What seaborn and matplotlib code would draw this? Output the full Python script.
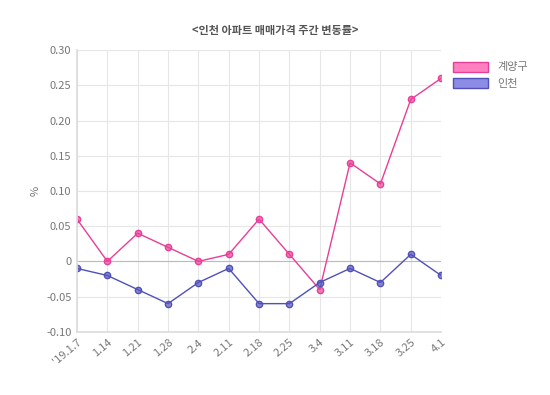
import pandas as pd
import matplotlib.pyplot as plt
import seaborn as sns
from matplotlib.patches import Patch

sns.set_theme(style="whitegrid")
plt.rcParams['font.family'] = ['Noto Sans CJK KR', 'DejaVu Sans']

weeks = ["'19.1.7", "1.14", "1.21", "1.28", "2.4", "2.11", "2.18", "2.25",
         "3.4", "3.11", "3.18", "3.25", "4.1"]
gyeyang = [0.06, 0, 0.04, 0.02, 0, 0.01, 0.06, 0.01, -0.04, 0.14, 0.11, 0.23, 0.26]
incheon = [-0.01, -0.02, -0.04, -0.06, -0.03, -0.01, -0.06, -0.06, -0.03, -0.01, -0.03, 0.01, -0.02]

df = pd.DataFrame({'week': list(range(len(weeks))) * 2,
                   'value': gyeyang + incheon,
                   'region': ['계양구'] * len(weeks) + ['인천'] * len(weeks)})

pink = '#e83e97'
blue = '#5050bb'

fig = plt.figure(figsize=(5.5, 3.95), dpi=100)
ax = fig.add_axes([0.14, 0.16, 0.662, 0.713])

sns.lineplot(data=df, x='week', y='value', hue='region', palette=[pink, blue],
             marker='o', markersize=4.5, linewidth=1, markeredgewidth=1,
             ax=ax, legend=False)
for line, c in zip(ax.lines, [pink, blue]):
    line.set_markerfacecolor(c + 'aa')
    line.set_markeredgecolor(c)

ax.set_xlim(0, len(weeks) - 1)
ax.set_ylim(-0.10, 0.30)
ax.set_xticks(range(len(weeks)))
ax.set_xticklabels(weeks, rotation=40, ha='right', rotation_mode='anchor')
yt = [-0.10, -0.05, 0, 0.05, 0.10, 0.15, 0.20, 0.25, 0.30]
ax.set_yticks(yt)
ax.set_yticklabels(['%.2f' % v if v != 0 else '0' for v in yt])
ax.tick_params(axis='both', labelsize=8, colors='#777777', length=0, pad=4)
ax.grid(True, color='#e6e6e6', linewidth=0.8)
ax.axhline(0, color='#bbbbbb', linewidth=0.8, zorder=1)
for s in ax.spines.values():
    s.set_visible(False)
ax.spines['left'].set_visible(True)
ax.spines['left'].set_color('#dddddd')
ax.spines['bottom'].set_visible(True)
ax.spines['bottom'].set_color('#dddddd')

ax.set_xlabel('')
ax.set_ylabel('%', fontsize=8, color='#777777', labelpad=4)
fig.text(0.5, 0.913, '<인천 아파트 매매가격 주간 변동률>', ha='center',
         fontsize=8, fontweight='bold', color='#555555')

handles = [Patch(facecolor='#ff80c0', edgecolor=pink, label='계양구'),
           Patch(facecolor='#8c8ce6', edgecolor=blue, label='인천')]
fig.legend(handles=handles, loc='upper left', bbox_to_anchor=(0.815, 0.855),
           frameon=False, fontsize=8, handlelength=3.2, handleheight=1.0,
           labelcolor='#777777', borderaxespad=0, labelspacing=0.5)

fig.savefig('out.png', dpi=100)
